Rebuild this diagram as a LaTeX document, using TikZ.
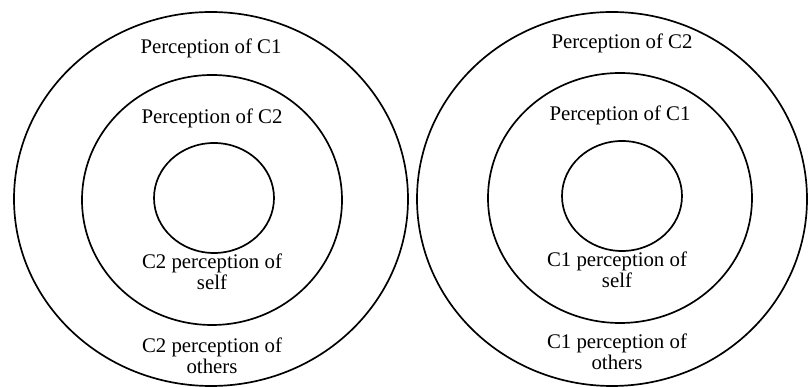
\documentclass[tikz,border=0pt]{standalone}
\usepackage{fontspec}
\setmainfont{Liberation Serif}
\usepackage{tikz}
\usetikzlibrary{shapes.geometric}

\begin{document}
\begin{tikzpicture}[
      ring/.style={ellipse, draw, line width=1.2pt, inner sep=0pt},
      lbl/.style={align=center, inner sep=0pt, font=\fontsize{14.8}{15}\selectfont}
    ]
      \useasboundingbox (0,0) rectangle (20.2,9.675);
      % left set of rings
      \node[ring, minimum width=9.85cm, minimum height=9.35cm] (outerL) at (5.275, 4.7) {};
      \node[ring, minimum width=6.5cm, minimum height=6.25cm] (midL) at (5.3, 4.675) {};
      \node[ring, minimum width=3cm, minimum height=2.75cm] (innerL) at (5.35, 4.725) {};
      \node[lbl] (outerLtop) at (5.275, 8.475) {Perception of C1};
      \node[lbl] (midLtop) at (5.3, 6.725) {Perception of C2};
      \node[lbl] (midLbot) at (5.3, 2.875) {C2 perception of\\self};
      \node[lbl] (outerLbot) at (5.3, 0.775) {C2 perception of\\others};
      % right set of rings
      \node[ring, minimum width=9.75cm, minimum height=9.35cm] (outerR) at (15.3, 4.7) {};
      \node[ring, minimum width=6.6cm, minimum height=6.25cm] (midR) at (15.5, 4.725) {};
      \node[ring, minimum width=3cm, minimum height=2.75cm] (innerR) at (15.55, 4.775) {};
      \node[lbl] (outerRtop) at (15.55, 8.6) {Perception of C2};
      \node[lbl] (midRtop) at (15.5, 6.8) {Perception of C1};
      \node[lbl] (midRbot) at (15.425, 2.925) {C1 perception of\\self};
      \node[lbl] (outerRbot) at (15.425, 0.875) {C1 perception of\\others};
    \end{tikzpicture}
\end{document}
